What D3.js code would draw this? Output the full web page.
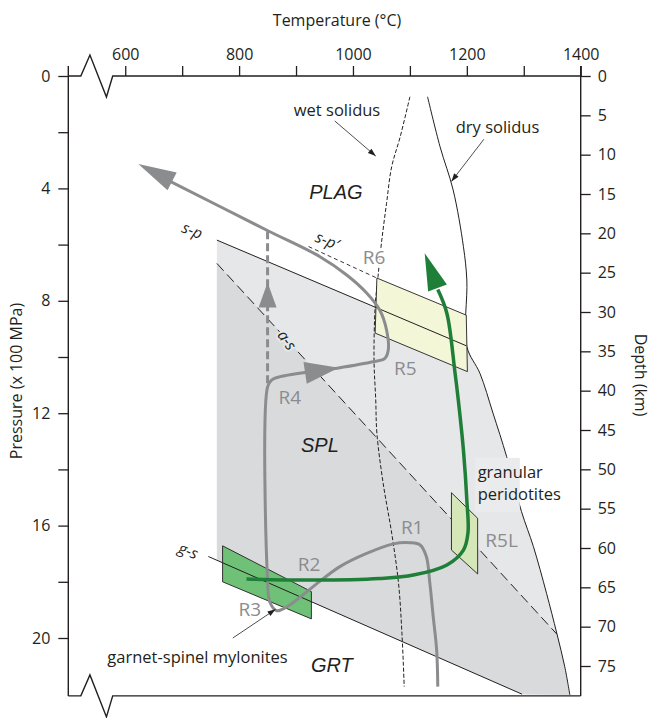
<!DOCTYPE html>
<html>
<head>
<meta charset="utf-8">
<script src="https://cdn.jsdelivr.net/npm/d3@7"></script>
<style>
  body { margin: 0; background: #fff; }
  text { font-family: "Open Sans", sans-serif; fill: #231f20; }
</style>
</head>
<body>
<div id="chart"></div>
<script>
// axis ticks
var tempTicks = [600, 700, 800, 900, 1000, 1100, 1200, 1300, 1400];
var tempLabels = [600, 800, 1000, 1200, 1400];
var pressureTicks = [0, 2, 4, 6, 8, 10, 12, 14, 16, 18, 20];
var pressureLabels = [0, 4, 8, 12, 16, 20];
var depthTicks = [0, 5, 10, 15, 20, 25, 30, 35, 40, 45, 50, 55, 60, 65, 70, 75];

// phase boundaries, [T in °C, P in x100 MPa]
var drySolidus = [[1131, 0.74], [1153, 2.52], [1176, 4.06], [1194, 6.07], [1200, 7.26], [1200, 9.63],
  [1223, 10.58], [1246, 12.0], [1270, 13.55], [1296, 15.5], [1317, 16.75], [1340, 18.41],
  [1358, 19.83], [1372, 21.02], [1381, 22.03]];
var wetSolidus = [[1100, 0.74], [1083, 2.16], [1068, 3.23], [1059, 4.53], [1050, 5.95], [1044, 7.14],
  [1039, 8.21], [1037, 10.11], [1040, 11.53], [1042, 12.71], [1053, 14.49], [1068, 16.27],
  [1080, 18.05], [1086, 19.83], [1090, 21.73]];
var spLine = [[761, 5.84], [1199, 9.6]];
var spPrimeLine = [[922, 6.07], [1042, 7.19]];
var asLine = [[761, 6.67], [1358, 19.86]];
var gsLine = [[746, 17.1], [1297, 22.0]];

// sample boxes
var r6Box = [[1042, 7.19], [1199, 8.51], [1201, 10.52], [1039, 9.15]];
var r5lBox = [[1173, 14.83], [1219, 15.74], [1219, 17.72], [1173, 16.87]];
var myloniteBox = [[771, 16.72], [927, 18.35], [927, 19.32], [771, 18.0]];
var granularBox = [[1214, 13.59], [1293, 15.52]];

// P-T paths
var grayPath = [[1149, 21.73], [1147, 20.43], [1141, 19.25], [1135, 18.04], [1129, 17.11], [1118, 16.69],
  [1100, 16.61], [1071, 16.65], [1024, 16.99], [977, 17.46], [930, 18.17], [884, 18.89], [866, 19.03],
  [854, 18.72], [850, 17.94], [850, 11.06], [857, 10.82], [872, 10.7], [972, 10.4], [1035, 10.17],
  [1056, 10.05], [1062, 9.75], [1059, 9.04], [1047, 8.33], [1024, 7.72], [989, 7.08], [942, 6.43],
  [848, 5.48], [672, 3.68]];
var grayArrows = [{ tip: [975, 10.38], from: [872, 10.7] }, { tip: [623, 3.13], from: [848, 5.48] }];
var risePath = [[850, 10.93], [850, 5.48]];
var riseArrow = { tip: [850, 7.35], from: [850, 10.0] };
var greenPath = [[813, 17.9], [931, 17.94], [1047, 17.88], [1106, 17.76], [1165, 17.4], [1194, 16.87],
  [1202, 16.26], [1200, 15.09], [1194, 13.31], [1185, 11.53], [1179, 10.52], [1165, 8.45], [1149, 7.6]];
var greenArrow = { tip: [1126, 6.31], from: [1165, 8.45] };

// annotations
var fieldLabels = [["PLAG", 970, 4.13], ["SPL", 942, 13.13], ["GRT", 963, 20.96]];
var sampleLabels = [["R1", 1104, 16.05], ["R2", 923, 17.37], ["R3", 819, 18.97], ["R4", 889, 11.42],
  ["R5", 1092, 10.39], ["R6", 1037, 6.45], ["R5L", 1261, 16.51]];
var reactionLabels = [["s-p", 718, 5.5, 22], ["s-p\u2032", 955, 5.86, 22], ["a-s", 884, 9.4, 55], ["g-s", 711, 16.9, 22]];
var notes = [["wet solidus", 972, 1.21], ["dry solidus", 1254, 1.81], ["garnet-spinel mylonites", 727, 20.67]];
var pointers = [[[968, 1.6], [1040, 2.85]], [[1230, 2.25], [1173, 3.75]], [[789, 20.0], [864, 18.98]]];

var width = 651, height = 718;
var pMax = 22.06;

var x = d3.scaleLinear().domain([500, 1400]).range([68.3, 580.7]);
var y = d3.scaleLinear().domain([0, 20]).range([76, 638]);
var depth = d3.scaleLinear().domain([0, 75]).range([76, 666]);

var svg = d3.select("#chart").append("svg")
  .attr("width", width)
  .attr("height", height);

var line = d3.line().x(function (d) { return x(d[0]); }).y(function (d) { return y(d[1]); });
var smooth = d3.line().x(function (d) { return x(d[0]); }).y(function (d) { return y(d[1]); })
  .curve(d3.curveCatmullRom.alpha(0.5));

function pOnLine(l, t) {
  return l[0][1] + (t - l[0][0]) / (l[1][0] - l[0][0]) * (l[1][1] - l[0][1]);
}

// shaded spinel field
var lightGray = "#e6e7e8", darkGray = "#d9dadc";
var gsLeft = [spLine[0][0], pOnLine(gsLine, spLine[0][0])];
var lightRegion = [spLine[0], spLine[1]]
  .concat(drySolidus.filter(function (d) { return d[1] > spLine[1][1]; }))
  .concat([gsLine[1], gsLeft]);
var darkRegion = [asLine[0], asLine[1]]
  .concat(drySolidus.filter(function (d) { return d[1] > asLine[1][1]; }))
  .concat([gsLine[1], gsLeft]);

svg.append("path").attr("d", line(lightRegion) + "Z").attr("fill", lightGray);
svg.append("path").attr("d", line(darkRegion) + "Z").attr("fill", darkGray);

// boundaries
svg.append("path").attr("d", line(spLine)).attr("fill", "none").attr("stroke", "#231f20").attr("stroke-width", 1);
svg.append("path").attr("d", line(spPrimeLine)).attr("fill", "none").attr("stroke", "#231f20")
  .attr("stroke-width", 0.9).attr("stroke-dasharray", "4,3");
svg.append("path").attr("d", line(asLine)).attr("fill", "none").attr("stroke", "#231f20")
  .attr("stroke-width", 1).attr("stroke-dasharray", "10,5");
svg.append("path").attr("d", line(gsLine)).attr("fill", "none").attr("stroke", "#231f20").attr("stroke-width", 1);
svg.append("path").attr("d", smooth(drySolidus)).attr("fill", "none").attr("stroke", "#231f20").attr("stroke-width", 1);
svg.append("path").attr("d", smooth(wetSolidus)).attr("fill", "none").attr("stroke", "#231f20")
  .attr("stroke-width", 1).attr("stroke-dasharray", "4,2");

// label background over the solidus
svg.append("rect")
  .attr("x", x(granularBox[0][0])).attr("y", y(granularBox[0][1]))
  .attr("width", x(granularBox[1][0]) - x(granularBox[0][0]))
  .attr("height", y(granularBox[1][1]) - y(granularBox[0][1]))
  .attr("fill", "#eaebec");

// boxes
svg.append("path").attr("d", line(r6Box) + "Z").attr("fill", "#f3f6d7").attr("stroke", "#231f20").attr("stroke-width", 0.9);
svg.append("path").attr("d", line([[r6Box[3][0], pOnLine(spLine, r6Box[3][0])], [r6Box[1][0], pOnLine(spLine, r6Box[1][0])]]))
  .attr("stroke", "#231f20").attr("stroke-width", 1);
svg.append("path").attr("d", line(r5lBox) + "Z").attr("fill", "#d5e7b8").attr("stroke", "#231f20").attr("stroke-width", 0.9);
svg.append("path").attr("d", line(myloniteBox) + "Z").attr("fill", "#6fc177").attr("stroke", "#231f20").attr("stroke-width", 0.9);
svg.append("path").attr("d", line([[myloniteBox[0][0], pOnLine(gsLine, myloniteBox[0][0])], [myloniteBox[1][0], pOnLine(gsLine, myloniteBox[1][0])]]))
  .attr("stroke", "#231f20").attr("stroke-width", 1);

function arrowHead(a, len, hw, color) {
  var tx = x(a.tip[0]), ty = y(a.tip[1]);
  var dx = tx - x(a.from[0]), dy = ty - y(a.from[1]);
  var n = Math.sqrt(dx * dx + dy * dy);
  dx /= n; dy /= n;
  var bx = tx - dx * len, by = ty - dy * len;
  svg.append("path")
    .attr("d", "M" + tx + "," + ty + "L" + (bx - dy * hw) + "," + (by + dx * hw) + "L" + (bx + dy * hw) + "," + (by - dx * hw) + "Z")
    .attr("fill", color);
}

// labels that sit on top of lines (knock the line out behind them)
reactionLabels.forEach(function (d) {
  svg.append("text").attr("transform", "translate(" + x(d[1]) + "," + y(d[2]) + ") rotate(" + d[3] + ")")
    .attr("dy", "0.35em").attr("text-anchor", "middle")
    .style("font-style", "italic").style("font-size", "15.5px")
    .style("stroke", d[0] === "a-s" ? lightGray : "none").style("stroke-width", 4)
    .style("paint-order", "stroke").text(d[0]);
});

// gray paths
var gray = "#8b8c8e";
svg.append("path").attr("d", line(risePath)).attr("fill", "none").attr("stroke", gray)
  .attr("stroke-width", 3).attr("stroke-dasharray", "8,4");
arrowHead(riseArrow, 25, 9, gray);
svg.append("path").attr("d", smooth(grayPath)).attr("fill", "none").attr("stroke", gray).attr("stroke-width", 3);
grayArrows.forEach(function (a, i) { arrowHead(a, i ? 38 : 34, i ? 10 : 11, gray); });

// green path
var green = "#1f7e37";
svg.append("path").attr("d", smooth(greenPath)).attr("fill", "none").attr("stroke", green).attr("stroke-width", 3.5);
arrowHead(greenArrow, 37, 10, green);

// labels
fieldLabels.forEach(function (d) {
  svg.append("text").attr("x", x(d[1])).attr("y", y(d[2])).attr("dy", "0.35em")
    .attr("text-anchor", "middle").style("font-family", "'Liberation Sans', Arial, sans-serif")
    .style("font-style", "italic").style("font-size", "20px").text(d[0]);
});
sampleLabels.forEach(function (d) {
  svg.append("text").attr("x", x(d[1])).attr("y", y(d[2])).attr("dy", "0.35em")
    .attr("text-anchor", "middle").style("font-size", "19px").style("fill", gray)
    .style("stroke", d[0] === "R6" ? "#fff" : "none").style("stroke-width", 4)
    .style("paint-order", "stroke").text(d[0]);
});
notes.forEach(function (d) {
  svg.append("text").attr("x", x(d[1])).attr("y", y(d[2])).attr("dy", "0.35em")
    .attr("text-anchor", "middle").style("font-size", "16.5px").text(d[0]);
});
svg.append("text").attr("x", x(1219)).attr("y", y(14.09)).attr("dy", "0.35em")
  .style("font-size", "16.5px").text("granular");
svg.append("text").attr("x", x(1219)).attr("y", y(14.88)).attr("dy", "0.35em")
  .style("font-size", "16.5px").text("peridotites");

pointers.forEach(function (d) {
  svg.append("path").attr("d", line(d)).attr("stroke", "#231f20").attr("stroke-width", 0.8);
  arrowHead({ tip: d[1], from: d[0] }, 8, 2.8, "#231f20");
});

// axes
var axisColor = "#231f20";
var topAxis = svg.append("g").attr("transform", "translate(0," + y(0) + ")")
  .call(d3.axisTop(x).tickValues(tempTicks).tickSize(10).tickPadding(6)
    .tickFormat(function (d) { return tempLabels.indexOf(d) >= 0 ? d : ""; }));
var leftAxis = svg.append("g").attr("transform", "translate(" + x(500) + ",0)")
  .call(d3.axisLeft(y).tickValues(pressureTicks).tickSize(10).tickPadding(8)
    .tickFormat(function (d) { return pressureLabels.indexOf(d) >= 0 ? d : ""; }));
var rightAxis = svg.append("g").attr("transform", "translate(" + x(1400) + ",0)")
  .call(d3.axisRight(depth).tickValues(depthTicks).tickSize(10).tickPadding(7));
[topAxis, leftAxis, rightAxis].forEach(function (g) {
  g.select(".domain").remove();
  g.selectAll("line").attr("stroke", axisColor).attr("stroke-width", 1.3);
  g.selectAll("text").style("font-family", "'Open Sans', sans-serif").style("font-size", "16px").attr("fill", axisColor);
});

// frame with axis breaks
var breakT = [522, 538, 567, 578];
function frameEdge(p) {
  var yy = y(p);
  return "M" + x(500) + "," + yy + "L" + x(breakT[0]) + "," + yy +
    "L" + x(breakT[1]) + "," + (yy - 21) + "L" + x(breakT[2]) + "," + (yy + 21) +
    "L" + x(breakT[3]) + "," + yy + "L" + x(1400) + "," + yy;
}
svg.append("path").attr("d", frameEdge(0)).attr("fill", "none").attr("stroke", axisColor).attr("stroke-width", 1.4);
svg.append("path").attr("d", frameEdge(pMax)).attr("fill", "none").attr("stroke", axisColor).attr("stroke-width", 1.4);
svg.append("path").attr("d", "M" + x(500) + "," + (y(0) - 10) + "V" + y(pMax))
  .attr("stroke", axisColor).attr("stroke-width", 1.4);
svg.append("path").attr("d", "M" + x(1400) + "," + (y(0) - 10) + "V" + y(pMax))
  .attr("stroke", axisColor).attr("stroke-width", 1.4);

// axis titles
svg.append("text").attr("x", 337).attr("y", 20).attr("dy", "0.35em").attr("text-anchor", "middle")
  .style("font-size", "16px").text("Temperature (\u00b0C)");
svg.append("text").attr("transform", "translate(16,381) rotate(-90)").attr("dy", "0.35em")
  .attr("text-anchor", "middle").style("font-size", "16px").text("Pressure (x 100 MPa)");
svg.append("text").attr("transform", "translate(641,375) rotate(90)").attr("dy", "0.35em")
  .attr("text-anchor", "middle").style("font-size", "16px").text("Depth (km)");
</script>
</body>
</html>
